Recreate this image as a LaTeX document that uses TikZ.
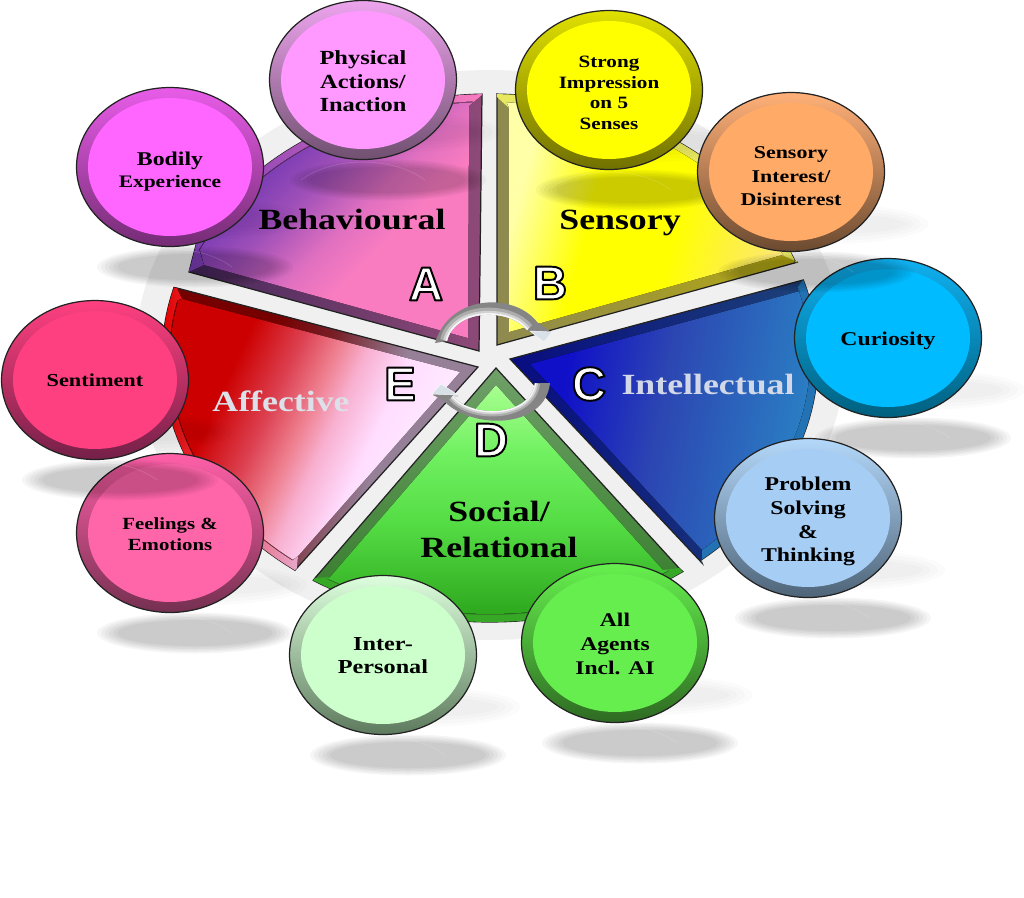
\documentclass[tikz,border=0pt]{standalone}
\usepackage{fontspec}
\usetikzlibrary{shapes.geometric}
\newfontfamily\lab{Liberation Serif}[FakeStretch=1.22]
\newfontfamily\letr{Liberation Sans}
\newcommand\outl[1]{\special{pdf:code 2 Tr 1.1 w 0 0 0 RG 1 j}#1\special{pdf:code 0 Tr}}
\definecolor{edge}{HTML}{222222}
\definecolor{ringbg}{HTML}{F0F0F0}
% segment colours
\definecolor{a1}{HTML}{7A3CB4}\definecolor{a2}{HTML}{A050B8}\definecolor{a3}{HTML}{E070C0}\definecolor{a4}{HTML}{F97CC0}
\definecolor{aL}{HTML}{45285A}\definecolor{aD}{HTML}{8E4A78}
\definecolor{by}{HTML}{FFFF00}\definecolor{bp}{HTML}{FFFFA8}\definecolor{bq}{HTML}{FDE870}
\definecolor{bL}{HTML}{8E8A50}\definecolor{bD}{HTML}{B4A810}\definecolor{bB}{HTML}{E8E860}
\definecolor{c1}{HTML}{1010C8}\definecolor{c2}{HTML}{2C46B2}\definecolor{c3}{HTML}{2A80C4}
\definecolor{cL}{HTML}{080C80}\definecolor{cD}{HTML}{1E4478}\definecolor{cB}{HTML}{2272B4}
\definecolor{d1}{HTML}{A8FF90}\definecolor{d2}{HTML}{70F060}\definecolor{d3}{HTML}{55DD45}\definecolor{d4}{HTML}{2EA81E}
\definecolor{dT}{HTML}{6FA068}\definecolor{dM}{HTML}{327A28}\definecolor{dB}{HTML}{36A826}
\definecolor{e1}{HTML}{CC0000}\definecolor{e2}{HTML}{DC4050}\definecolor{e3}{HTML}{EE8090}\definecolor{e4}{HTML}{F8B0D0}\definecolor{e5}{HTML}{FFDDFF}\definecolor{e6}{HTML}{FFF0FF}
\definecolor{f1}{HTML}{760000}\definecolor{f2}{HTML}{782028}\definecolor{f3}{HTML}{958098}
\definecolor{eL}{HTML}{E40000}\definecolor{eR}{HTML}{E8A8CC}
\definecolor{txtC}{HTML}{D2D8E8}\definecolor{txtE}{HTML}{DCE0E8}
\definecolor{sil1}{HTML}{858585}\definecolor{sil2}{HTML}{ACACAC}\definecolor{sil3}{HTML}{D2D2D2}\definecolor{sil4}{HTML}{F6F6F6}\definecolor{sil5}{HTML}{D8E0E8}
\pgfdeclarehorizontalshading{aface}{100bp}{color(0bp)=(a1);color(33bp)=(a1);color(42bp)=(a2);color(52bp)=(a3);color(60bp)=(a4);color(100bp)=(a4)}
\pgfdeclarehorizontalshading{bface}{100bp}{color(0bp)=(bp);color(26bp)=(bp);color(40bp)=(by);color(56bp)=(by);color(75bp)=(bq);color(100bp)=(bq)}
\pgfdeclarehorizontalshading{cface}{100bp}{color(0bp)=(c1);color(30bp)=(c1);color(48bp)=(c2);color(75bp)=(c3);color(100bp)=(c3)}
\pgfdeclareverticalshading{dface}{100bp}{color(0bp)=(d4);color(25bp)=(d4);color(45bp)=(d3);color(60bp)=(d2);color(75bp)=(d1);color(100bp)=(d1)}
\pgfdeclarehorizontalshading{eface}{100bp}{color(0bp)=(e1);color(32bp)=(e1);color(41bp)=(e2);color(47.5bp)=(e3);color(52.5bp)=(e4);color(60bp)=(e5);color(74bp)=(e6);color(100bp)=(e6)}
\pgfdeclarehorizontalshading{ebev}{100bp}{color(0bp)=(f1);color(38bp)=(f1);color(48bp)=(f2);color(60bp)=(f3);color(100bp)=(f3)}
% bubble colours
\definecolor{physF}{HTML}{FF99FF}\definecolor{physL}{HTML}{EDA4ED}\definecolor{physD}{HTML}{705070}
\definecolor{bodyF}{HTML}{FF66FF}\definecolor{bodyL}{HTML}{E85CE8}\definecolor{bodyD}{HTML}{742C74}
\definecolor{strF}{HTML}{FFFF00}\definecolor{strL}{HTML}{E0E000}\definecolor{strD}{HTML}{707000}
\definecolor{senF}{HTML}{FFAA66}\definecolor{senL}{HTML}{FFB078}\definecolor{senD}{HTML}{6B4A30}
\definecolor{curF}{HTML}{00BBFF}\definecolor{curL}{HTML}{10B0F0}\definecolor{curD}{HTML}{00607F}
\definecolor{proF}{HTML}{A6CDF4}\definecolor{proL}{HTML}{B4D8FA}\definecolor{proD}{HTML}{4E6478}
\definecolor{allF}{HTML}{66EE4E}\definecolor{allL}{HTML}{66F04E}\definecolor{allD}{HTML}{2E6A22}
\definecolor{intF}{HTML}{CCFFCC}\definecolor{intL}{HTML}{DDFFDD}\definecolor{intD}{HTML}{5E7A5E}
\definecolor{feeF}{HTML}{FF66AA}\definecolor{feeL}{HTML}{FF60A8}\definecolor{feeD}{HTML}{743050}
\definecolor{entF}{HTML}{FF4080}\definecolor{entL}{HTML}{FF4080}\definecolor{entD}{HTML}{742048}
% elliptical rim piece of the wheel, centred on (490,358)
\newcommand\earc[4]{-- plot[domain=#3:#4,samples=36,variable=\t] ({490+#1*cos(\t)},{358+#2*sin(\t)})}
% soft shadows
\newcommand\shad[2]{%
  \foreach \a/\b in {1.56/0.26,1.64/0.29,1.72/0.32,1.80/0.35,1.88/0.38,1.96/0.41}{%
    \fill[black,opacity=0.037] ({#1+25},{#2+100}) ellipse [x radius=\a cm,y radius=\b cm];}
  \draw[white,opacity=0.14,line width=0.4pt] ({#1-62},{#2+100}) .. controls ({#1-30},{#2+76}) and ({#1+30},{#2+76}) .. ({#1+62},{#2+100});}
\newcommand\softshad[2]{%
  \foreach \a/\b in {1.6/0.2,1.75/0.27,1.9/0.34,2.05/0.4}{%
    \fill[black,opacity=0.016] ({#1+35},{#2+52}) ellipse [x radius=\a cm,y radius=\b cm];}}
% bubble: name, cx, cy, colour prefix, size, leading, text, downward shift
\newcommand\bub[8]{%
  \node[bubrim,top color=#4L,bottom color=#4D] (#1rim) at (#2,#3) {};
  \node[bubface,fill=#4F,font=\lab\bfseries\fontsize{#5}{#6}\selectfont] (#1) at (#2,#3)
    {\raisebox{\dimexpr-#8-4pt\relax}[0pt][0pt]{\begin{tabular}{@{}c@{}}#7\end{tabular}}};}
\tikzset{
  seg/.style={draw=edge,line width=0.7pt,line join=miter},
  bubrim/.style={shape=ellipse,draw=edge,line width=0.7pt,minimum width=3.74cm,minimum height=3.18cm,inner sep=0pt,shading angle=40},
  bubface/.style={shape=ellipse,minimum width=3.28cm,minimum height=2.76cm,inner sep=0pt,align=center,text=black},
  biglab/.style={font=\lab\bfseries\fontsize{16.7pt}{20.5pt}\selectfont,align=center,inner sep=0pt},
  letter/.style={font=\letr\bfseries\fontsize{27pt}{30pt}\selectfont,text=white,inner sep=0pt},
  silverbase/.style={fill=sil1},
  silverhead/.style={fill=sil5,draw=sil4,line width=0.3pt,line join=round}
}
\begin{document}
\begin{tikzpicture}[x=0.02cm,y=-0.02cm]
\useasboundingbox[fill=white] (0,0) rectangle (1024,897);
% wheel backing
\fill[ringbg] (490,355) ellipse [x radius=7.1cm,y radius=5.7cm];
% --- A Behavioural
\draw[seg,left color=aL,right color=aD] (479,351) -- (482,95) \earc{328}{264}{268.6}{207} -- (189,272) -- cycle;
\fill[left color=a1,right color=a4] (482,95) \earc{328}{264}{268.6}{207} -- (189,272) -- (204,265) \earc{321}{257}{205}{267} -- (469,106) -- cycle;
\fill[shading=aface,shading angle=-45] (468,338) -- (469,106) \earc{320}{256}{267}{205} -- (204,265) -- cycle;
% --- B Sensory
\draw[seg,left color=bL,right color=bD] (497,345) -- (497,97) \earc{328}{264}{271.2}{338.8} -- (798,262) -- cycle;
\fill[bB] (497,97) \earc{328}{264}{271.2}{338.8} -- (798,262) -- (782,255) \earc{320}{256}{337}{273} -- (509,108) -- cycle;
\fill[shading=bface,shading angle=-15] (509,332) -- (509,108) \earc{320}{256}{273}{337} -- (782,255) -- cycle;
% --- C Intellectual
\draw[seg,left color=cL,right color=cD] (510,359) -- (803,280) \earc{328}{264}{342.8}{410} -- (702,563) -- cycle;
\fill[cB] (803,280) \earc{328}{264}{342.8}{410} -- (702,563) -- (702,550) \earc{320}{256}{408}{344} -- cycle;
\fill[shading=cface,shading angle=-10] (530,364) -- (800,291) \earc{320}{256}{344}{408} -- (702,550) -- cycle;
% --- D Social/Relational
\draw[seg,top color=dT,bottom color=dM] (496,368) -- (679,568) \earc{328}{264}{54}{122.6} -- (315,578) -- cycle;
\fill[dB] (679,568) \earc{328}{264}{54}{122.6} -- (315,578) -- (330,577) \earc{321}{257}{120.5}{56} -- (663,570) -- cycle;
\fill[shading=dface] (496,385) -- (663,570) \earc{320}{256}{56}{120.5} -- (330,577) -- cycle;
% --- E Affective
\draw[seg,shading=ebev,shading angle=-17] (478,367) -- (297,568) \earc{328}{264}{126.5}{195.5} -- (177,288) -- cycle;
\fill[left color=eL,right color=eR] (297,568) \earc{328}{264}{126.5}{195.5} -- (177,288) -- (182,299) \earc{321}{257}{193}{128} -- (298,556) -- cycle;
\fill[shading=eface,shading angle=-25] (460,372) -- (298,556) \earc{320}{256}{128}{193} -- (182,299) -- cycle;
% --- bubbles and their shadows
\softshad{888}{338}\bub{cur}{888}{338}{cur}{11.1pt}{13.4pt}{Curiosity}{0.2pt}
\softshad{170}{533}\bub{fee}{170}{533}{fee}{9.7pt}{11.95pt}{Feelings \&\\Emotions}{0.3pt}
\softshad{363}{80}\shad{363}{80}\bub{phys}{363}{80}{phys}{11.4pt}{13.4pt}{Physical\\Actions/\\Inaction}{0.8pt}
\softshad{170}{167}\shad{170}{167}\bub{body}{170}{167}{body}{11.1pt}{12.5pt}{Bodily\\{\fontsize{10pt}{12.5pt}\selectfont Experience}}{1.8pt}
\softshad{609}{90}\shad{609}{90}\bub{str}{609}{90}{str}{9.85pt}{11.7pt}{Strong\\Impression\\on 5\\Senses}{0.9pt}
\softshad{791}{172}\shad{791}{172}\bub{sen}{791}{172}{sen}{10.24pt}{13.4pt}{Sensory\\Interest/\\Disinterest}{1.7pt}
\shad{888}{338}
\softshad{808}{518}\shad{808}{518}\bub{pro}{808}{518}{pro}{11.1pt}{13.5pt}{Problem\\Solving\\\&\\Thinking}{0.7pt}
\softshad{615}{643}\shad{615}{643}\bub{all}{615}{643}{all}{11pt}{13.4pt}{All\\Agents\\Incl. AI}{0.3pt}
\softshad{383}{655}\shad{383}{655}\bub{int}{383}{655}{int}{11.3pt}{13.4pt}{Inter-\\Personal}{0pt}
\shad{170}{533}
\softshad{95}{380}\shad{95}{380}\bub{ent}{95}{380}{ent}{10.4pt}{12pt}{Sentiment}{0pt}
% --- segment titles
\node[biglab] (tA) at (352,219) {Behavioural};
\node[biglab] (tB) at (620,223) {Sensory};
\node[biglab,text=txtC] (tC) at (708,384) {Intellectual};
\node[biglab] (tD) at (499,529) {Social/\\Relational};
\node[biglab,text=txtE] (tE) at (281,401) {Affective};
% --- silver arrows
\begin{scope}
\clip (435,343) .. controls (450,293) and (515,293) .. (537,322) -- (551,332) -- (544,341) -- (527,330)
  .. controls (510,308) and (455,308) .. (447,341) -- cycle;
\fill[silverbase] (430,290) rectangle (555,345);
\draw[sil2,line width=8pt] (447,341) .. controls (455,308) and (510,308) .. (527,330);
\draw[sil3,line width=4.4pt] (447,341) .. controls (455,308) and (510,308) .. (527,330);
\draw[sil4,line width=1.8pt] (447,341) .. controls (455,308) and (510,308) .. (527,330);
\end{scope}
\fill[silverhead] (530,331) -- (552,332) -- (544,342) -- cycle;
\begin{scope}
\clip (550,383) .. controls (545,430) and (470,430) .. (443,400) -- (433,395) -- (442,385) -- (458,396) -- (453,396)
  .. controls (470,418) and (530,418) .. (535,383) -- cycle;
\fill[silverbase] (430,380) rectangle (555,430);
\draw[sil2,line width=6pt] (453,396) .. controls (470,418) and (530,418) .. (535,383);
\draw[sil3,line width=3.6pt] (453,396) .. controls (470,418) and (530,418) .. (535,383);
\draw[sil4,line width=1.6pt] (453,396) .. controls (470,418) and (530,418) .. (535,383);
\end{scope}
\fill[silverhead] (458,395) -- (441,384) -- (432,394) -- cycle;
% --- letters
\node[letter] (lA) at (426,284) {\outl{A}};
\node[letter] (lB) at (550,283) {\outl{B}};
\node[letter] (lC) at (589,384) {\outl{C}};
\node[letter] (lD) at (491,440) {\outl{D}};
\node[letter] (lE) at (400,384) {\outl{E}};
\end{tikzpicture}
\end{document}
